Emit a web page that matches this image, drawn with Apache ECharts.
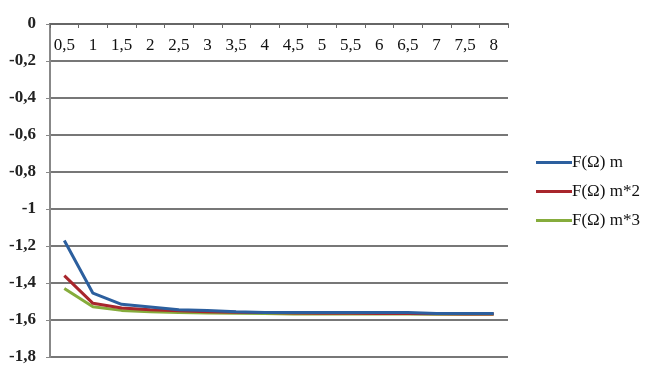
<!DOCTYPE html>
<html><head><meta charset="utf-8">
<script src="https://cdn.jsdelivr.net/npm/echarts@6/dist/echarts.min.js"></script>
<style>html,body{margin:0;padding:0;background:#fff}#c{width:652px;height:372px}</style>
</head><body><div id="c"></div>
<script>
var categories = ['0,5','1','1,5','2','2,5','3','3,5','4','4,5','5','5,5','6','6,5','7','7,5','8'];
var seriesNames = ['F(Ω) m','F(Ω) m*2','F(Ω) m*3'];
var blue  = [-1.17,-1.455,-1.515,-1.53,-1.545,-1.548,-1.555,-1.56,-1.56,-1.56,-1.56,-1.56,-1.56,-1.565,-1.565,-1.565];
var red   = [-1.36,-1.51,-1.535,-1.545,-1.55,-1.555,-1.558,-1.56,-1.562,-1.563,-1.564,-1.565,-1.565,-1.566,-1.567,-1.567];
var green = [-1.43,-1.528,-1.548,-1.555,-1.56,-1.562,-1.563,-1.565,-1.567,-1.568,-1.568,-1.568,-1.568,-1.569,-1.569,-1.569];
var colors = ['#2c5f9e','#a8262c','#86ac3c'];
var font = 'Liberation Serif';
var chart = echarts.init(document.getElementById('c'));
function mk(name, data, i){
  return {name:name,type:'line',data:data,symbol:'none',lineStyle:{width:3,color:colors[i]},itemStyle:{color:colors[i]},z:3+(2-i)};
}
chart.setOption({
  animation:false,
  grid:{left:50,right:144,top:24,bottom:15},
  legend:{orient:'vertical',left:531,top:149,itemWidth:36,itemHeight:3,itemGap:12,
    icon:'rect',
    textStyle:{fontFamily:font,fontSize:17,color:'#111',padding:[0,0,0,-5]},
    data:seriesNames},
  xAxis:{type:'category',position:'top',data:categories,boundaryGap:true,
    axisLine:{onZero:false,lineStyle:{color:'#666',width:2}},
    axisTick:{show:true,inside:true,length:4,lineStyle:{color:'#666',width:1}},
    axisLabel:{inside:true,margin:13,fontFamily:font,fontSize:17,color:'#111'},
    splitLine:{show:false}},
  yAxis:{type:'value',min:-1.8,max:0,interval:0.2,
    axisLine:{show:true,lineStyle:{color:'#888',width:2}},
    axisTick:{show:true,length:4,lineStyle:{color:'#888'}},
    axisLabel:{margin:14,fontFamily:font,fontSize:17,fontWeight:'bold',color:'#222',
      formatter:function(v){var s=(Math.round(v*10)/10).toString();return s==='-0'?'0':s.replace('.',',');}},
    splitLine:{lineStyle:{color:'#777',width:2}}},
  series:[mk(seriesNames[0],blue,0),mk(seriesNames[1],red,1),mk(seriesNames[2],green,2)]
});
</script></body></html>
